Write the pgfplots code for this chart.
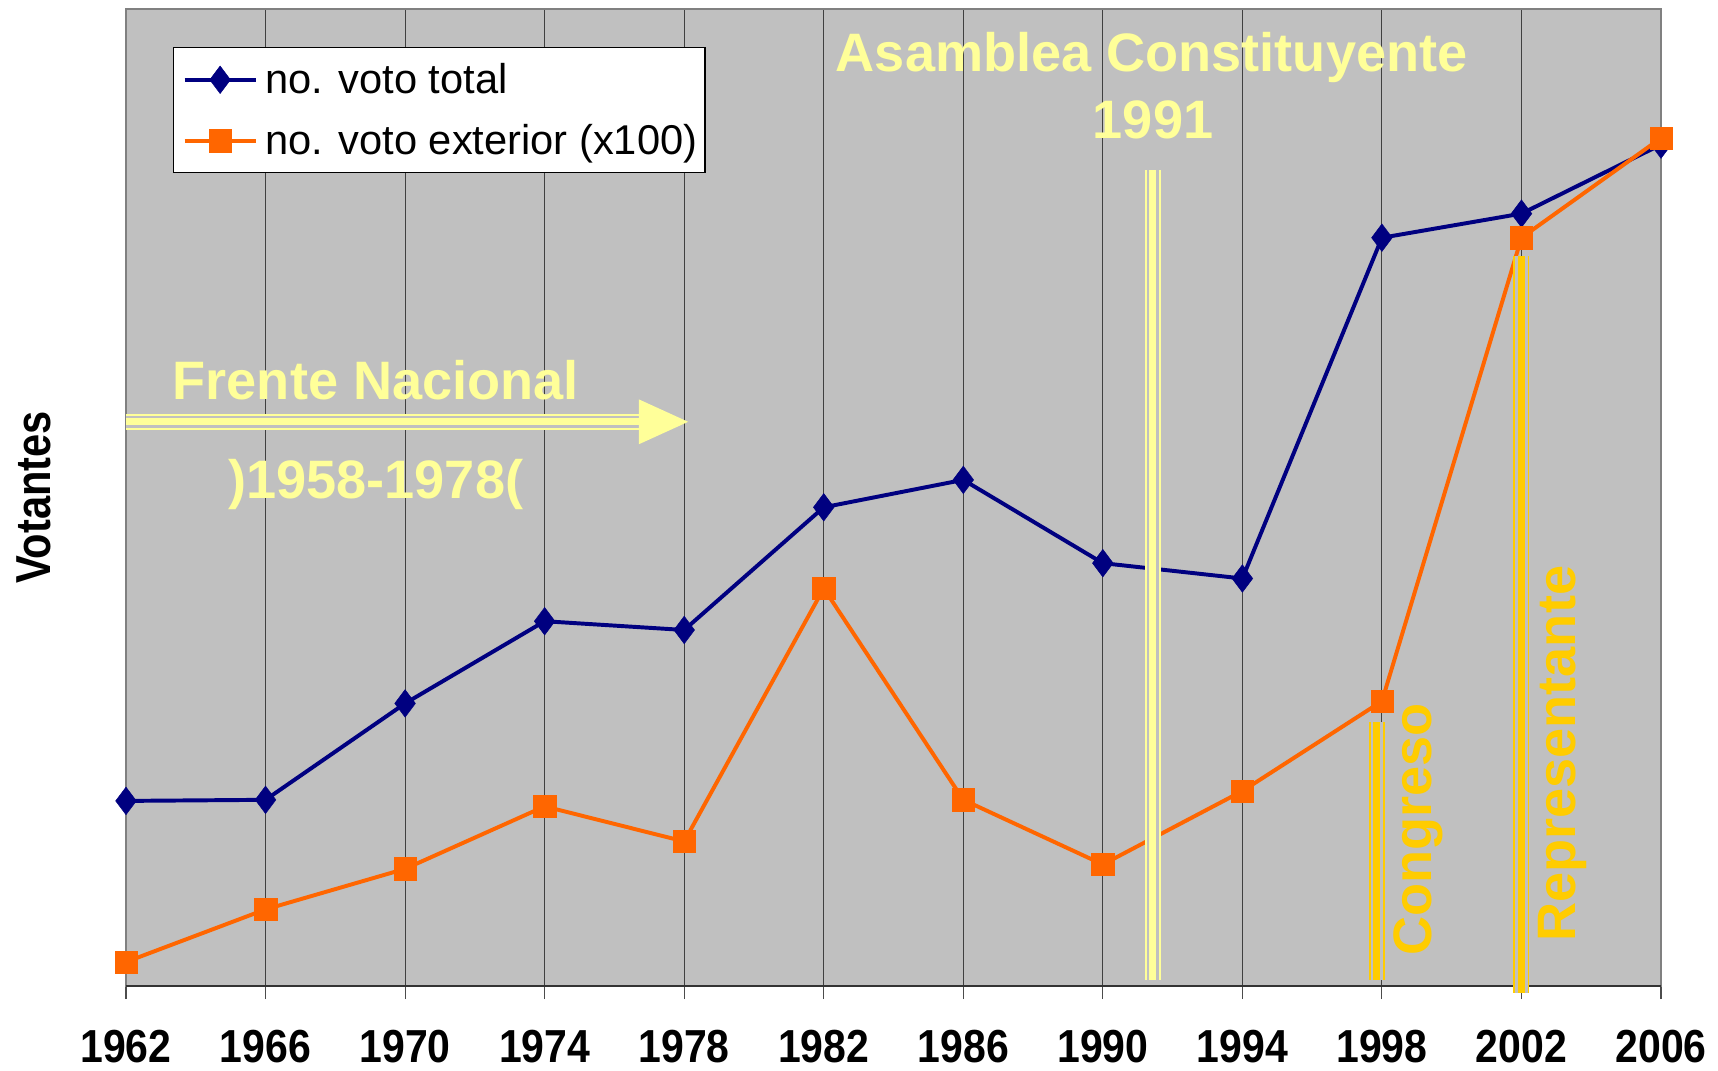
\documentclass[border=0pt]{standalone}
\usepackage{pgfplots}
\pgfplotsset{compat=1.18}
\usepackage{fontspec}
\setmainfont{Liberation Sans}
\definecolor{silverbg}{HTML}{C0C0C0}
\definecolor{navyc}{HTML}{000080}
\definecolor{orangec}{HTML}{FF6600}
\definecolor{lyellow}{HTML}{FFFF99}
\definecolor{goldc}{HTML}{FFCC00}
\newcommand\tl[1]{\scalebox{1}[1.13]{#1}}
\newcommand\tripleline[3]{%
  \draw[#3, line width=7.3pt] #1 -- #2;
  \draw[silverbg, line width=5.5pt] #1 -- #2;
  \draw[#3, line width=3.3pt] #1 -- #2;}
\begin{document}
\begin{tikzpicture}
\begin{axis}[
  scale only axis, width=700.5pt, height=446pt,
  xmin=1962, xmax=2006, ymin=0, ymax=892,
  xtick={1962,1966,1970,1974,1978,1982,1986,1990,1994,1998,2002,2006},
  xticklabels={\tl{1962},\tl{1966},\tl{1970},\tl{1974},\tl{1978},\tl{1982},\tl{1986},\tl{1990},\tl{1994},\tl{1998},\tl{2002},\tl{2006}},
  ytick=\empty,
  xtick pos=bottom,
  tick align=outside,
  major tick length=6pt,
  tick style={black!70, line width=0.5pt},
  xmajorgrids, grid style={black!75, line width=0.45pt},
  axis background/.style={fill=silverbg},
  axis line style={draw=black!50, line width=0.7pt},
  clip=false,
  xticklabel style={font=\bfseries\fontsize{18.7}{20}\selectfont, anchor=base, inner sep=0pt, yshift=-28.8pt},
  ylabel={\scalebox{1}[1.18]{Votantes}},
  ylabel style={font=\bfseries\fontsize{19}{20}\selectfont, at={(axis description cs:-0.0495,0.5)}, anchor=base},
  legend style={at={(0.0307,0.9608)}, anchor=north west, draw=black, fill=white,
    font=\fontsize{19}{22}\selectfont, inner xsep=1.5pt, inner ysep=5pt, row sep=8.5pt,
    line width=0.6pt},
  legend cell align=left,
  legend image code/.code={\path (0pt,0pt) (36.5pt,0pt); \draw[mark repeat=2,mark phase=2,#1] plot coordinates {(2.5pt,0pt) (18.75pt,0pt) (35pt,0pt)};},
]
\addplot[navyc, line width=1.8pt, mark=diamond*, mark size=6.3pt, mark options={solid, fill=navyc, draw=navyc, line width=0.2pt}]
  coordinates {(1962,169) (1966,170) (1970,258) (1974,333) (1978,325) (1982,437) (1986,462) (1990,386) (1994,372) (1998,683) (2002,705) (2006,768)};
\addlegendentry{no. voto total}
\addplot[orangec, line width=1.8pt, mark=square*, mark size=5.1pt, mark options={solid, fill=orangec, draw=orangec, line width=0.2pt}]
  coordinates {(1962,22) (1966,70) (1970,107) (1974,164) (1978,132) (1982,363) (1986,170) (1990,111) (1994,178) (1998,260) (2002,683) (2006,774)};
\addlegendentry{no. voto exterior (x100)}
\draw[black!80, line width=1.2pt] (rel axis cs:0,0) -- (rel axis cs:1,0);
% Asamblea Constituyente
\tripleline{(axis cs:1991.43,745)}{(axis cs:1991.43,6)}{lyellow}
\node[lyellow, font=\bfseries\fontsize{24.7}{26}\selectfont, anchor=base] at (axis cs:1991.4,835) {Asamblea Constituyente};
\node[lyellow, font=\bfseries\fontsize{24.7}{26}\selectfont, anchor=base] at (axis cs:1991.44,774) {1991};
% Frente Nacional
\tripleline{(axis cs:1962,515)}{(axis cs:1976.7,515)}{lyellow}
\fill[lyellow] (axis cs:1976.7,515) ++(0pt,10.25pt) -- ++(22.5pt,-10.25pt) -- ++(-22.5pt,-10.25pt) -- cycle;
\node[lyellow, font=\bfseries\fontsize{24.7}{26}\selectfont, anchor=base] at (axis cs:1969.16,535) {Frente Nacional};
\node[lyellow, font=\bfseries\fontsize{24.7}{26}\selectfont, anchor=base] at (axis cs:1969.16,445) {)1958-1978(};
% Congreso
\tripleline{(axis cs:1997.85,241)}{(axis cs:1997.85,6)}{goldc}
\node[goldc, font=\bfseries\fontsize{24.7}{26}\selectfont, anchor=base, rotate=90] at (axis cs:1999.43,143) {Congreso};
% Representante
\tripleline{(axis cs:2002.0,666)}{(axis cs:2002.0,-6)}{goldc}
\node[goldc, font=\bfseries\fontsize{24.7}{26}\selectfont, anchor=base, rotate=90] at (axis cs:2003.54,212) {Representante};
\end{axis}
\pgfresetboundingbox
\path[use as bounding box] (-57.5pt,-38.5pt) rectangle (726.5pt,450pt);
\end{tikzpicture}
\end{document}
